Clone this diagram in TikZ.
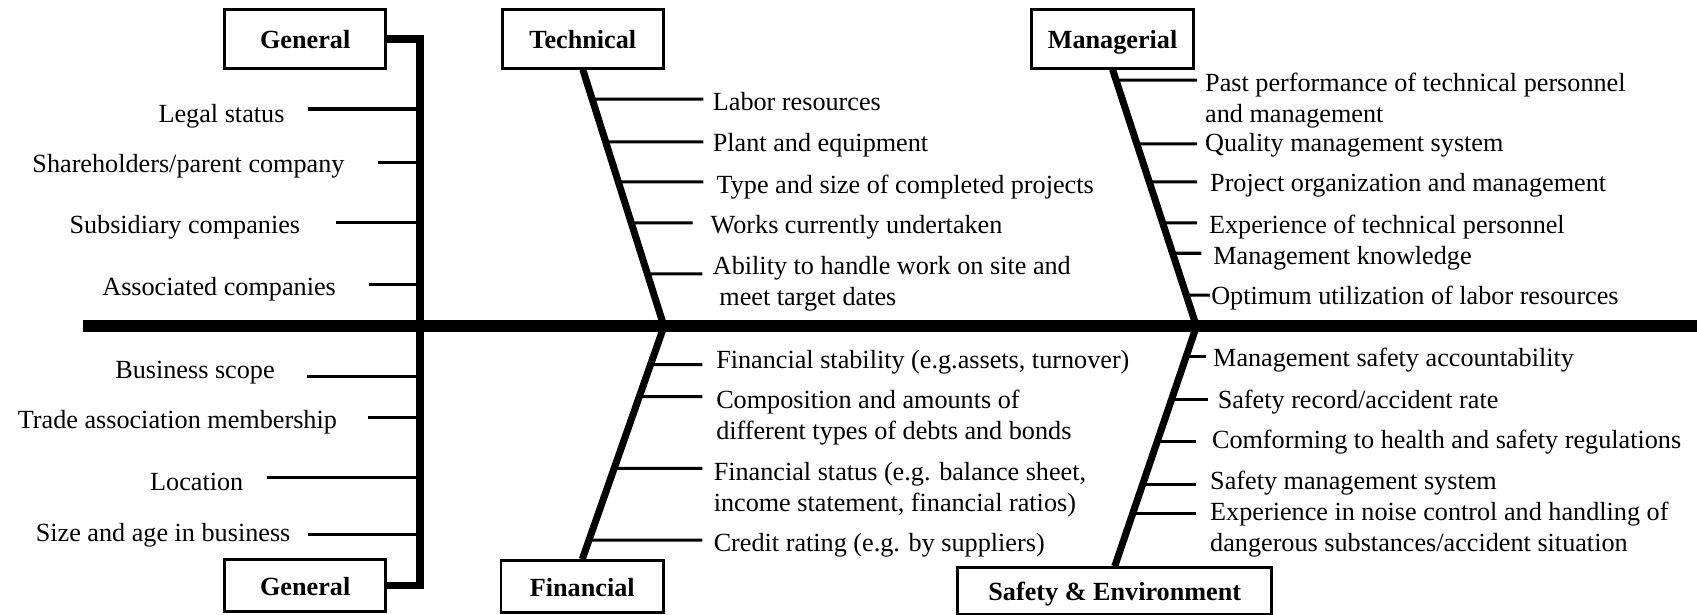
\documentclass[tikz,border=0pt]{standalone}
\usepackage{fontspec}
\setmainfont{Liberation Serif}

\newcommand{\fishfont}{\fontsize{24.2}{28.5}\selectfont}

\tikzset{
  catbox/.style={draw, line width=2.5pt, font=\fishfont\bfseries, minimum width=149pt, minimum height=54pt,
    inner sep=0pt, text height=18pt, text depth=0pt},
  rtext/.style={anchor=base west, inner sep=0pt, align=left},
  ltext/.style={anchor=base east, inner sep=0pt},
  spine/.style={line width=11pt},
  bone/.style={line width=6.5pt},
  genbar/.style={line width=6.8pt},
  rib/.style={line width=2.8pt},
}

\begin{document}
\begin{tikzpicture}[x=1pt, y=-1pt, font=\fishfont]
\useasboundingbox (0,0) rectangle (1568,568);

% category boxes
\node[catbox] (gtop) at (282,36) {General};
\node[catbox] (tech) at (538.5,36) {Technical};
\node[catbox, minimum width=150pt] (man) at (1028,36) {Managerial};
\node[catbox, minimum height=48pt] (gbot) at (282,541) {General};
\node[catbox, minimum width=150pt, minimum height=48pt] (fin) at (538,542) {Financial};
\node[catbox, minimum width=290pt, minimum height=43pt] (safe) at (1030,546) {Safety \& Environment};

% main spine and joints
\coordinate (tail) at (77,301.5);
\coordinate (head) at (1568,301.5);
\coordinate (tj) at (613.5,301.5);
\coordinate (mj) at (1105.5,301.5);
\coordinate (bx) at (388,0);
\draw[spine] (tail) -- (head);

% general bar
\draw[genbar] (gtop.east) -- (gtop.east -| bx) -- (gbot.east -| bx) -- (gbot.east);
\foreach \y/\x in {100.7/284.6, 149.7/349, 205.8/310.5, 263.3/341, 348/283.4, 386/340, 441.4/246.4, 493.7/284.6}
  \draw[rib] (\x,\y) -- (388,\y);

\node[ltext] (legal) at (263,113) {Legal status};
\node[ltext] (share) at (318.5,159.5) {Shareholders/parent company};
\node[ltext] (subs) at (277.5,216) {Subsidiary companies};
\node[ltext] (assoc) at (310.5,273) {Associated companies};
\node[ltext] (scope) at (254,350) {Business scope};
\node[ltext] (trade) at (311.5,396) {Trade association membership};
\node[ltext] (loc) at (225,453) {Location};
\node[ltext] (size) at (268.5,500) {Size and age in business};

% slanted bones
\draw[bone] (tech.south) -- (tj) -- (fin.north);
\draw[bone] (man.south) -- (mj) -- (safe.north);

% technical
\foreach \y/\e in {91.5/650, 131/650, 168/650, 206/640, 253/649}
  \draw[rib] (intersection of tech.south--tj and 0,\y--1,\y) -- (\e,\y);
\node[rtext] (labor) at (658.5,102) {Labor resources};
\node[rtext] (plant) at (658.5,140) {Plant and equipment};
\node[rtext] (proj) at (662,179) {Type and size of completed projects};
\node[rtext] (works) at (656.5,216) {Works currently undertaken};
\node[rtext] (abil) at (658.5,282.5) {Ability to handle work on site and\\\hspace*{6pt}meet target dates};

% managerial
\foreach \y/\e in {74/1106, 133/1106, 168/1106, 206/1106, 234/1110, 272.6/1118}
  \draw[rib] (intersection of man.south--mj and 0,\y--1,\y) -- (\e,\y);
\node[rtext] (past) at (1113.4,112.9) {Past performance of technical personnel\\and management};
\node[rtext] (qms) at (1113.4,140) {Quality management system};
\node[rtext] (porg) at (1118,177.4) {Project organization and management};
\node[rtext] (exptp) at (1117,216) {Experience of technical personnel};
\node[rtext] (mknow) at (1121,244.5) {Management knowledge};
\node[rtext] (optim) at (1119,281) {Optimum utilization of labor resources};

% financial
\foreach \y/\e in {337/649, 366.5/649, 432.7/649, 499/649}
  \draw[rib] (intersection of tj--fin.north and 0,\y--1,\y) -- (\e,\y);
\node[rtext] (fstab) at (661.6,340.6) {Financial stability (e.g.assets, turnover)};
\node[rtext] (comp) at (661.6,406.1) {Composition and amounts of\\different types of debts and bonds};
\node[rtext] (fstat) at (659.3,472.3) {Financial status (e.g. balance sheet,\\income statement, financial ratios)};
\node[rtext] (credit) at (659.3,510) {Credit rating (e.g. by suppliers)};

% safety & environment
\foreach \y/\e in {329.5/1114, 369/1116, 408/1105, 448/1105, 474.3/1105}
  \draw[rib] (intersection of mj--safe.north and 0,\y--1,\y) -- (\e,\y);
\node[rtext] (msa) at (1120.8,338.8) {Management safety accountability};
\node[rtext] (srec) at (1125,377.6) {Safety record/accident rate};
\node[rtext] (hsreg) at (1119.7,414.5) {Comforming to health and safety regulations};
\node[rtext] (sms) at (1118,452.4) {Safety management system};
\node[rtext] (noise) at (1118,509.3) {Experience in noise control and handling of\\dangerous substances/accident situation};
\end{tikzpicture}
\end{document}
